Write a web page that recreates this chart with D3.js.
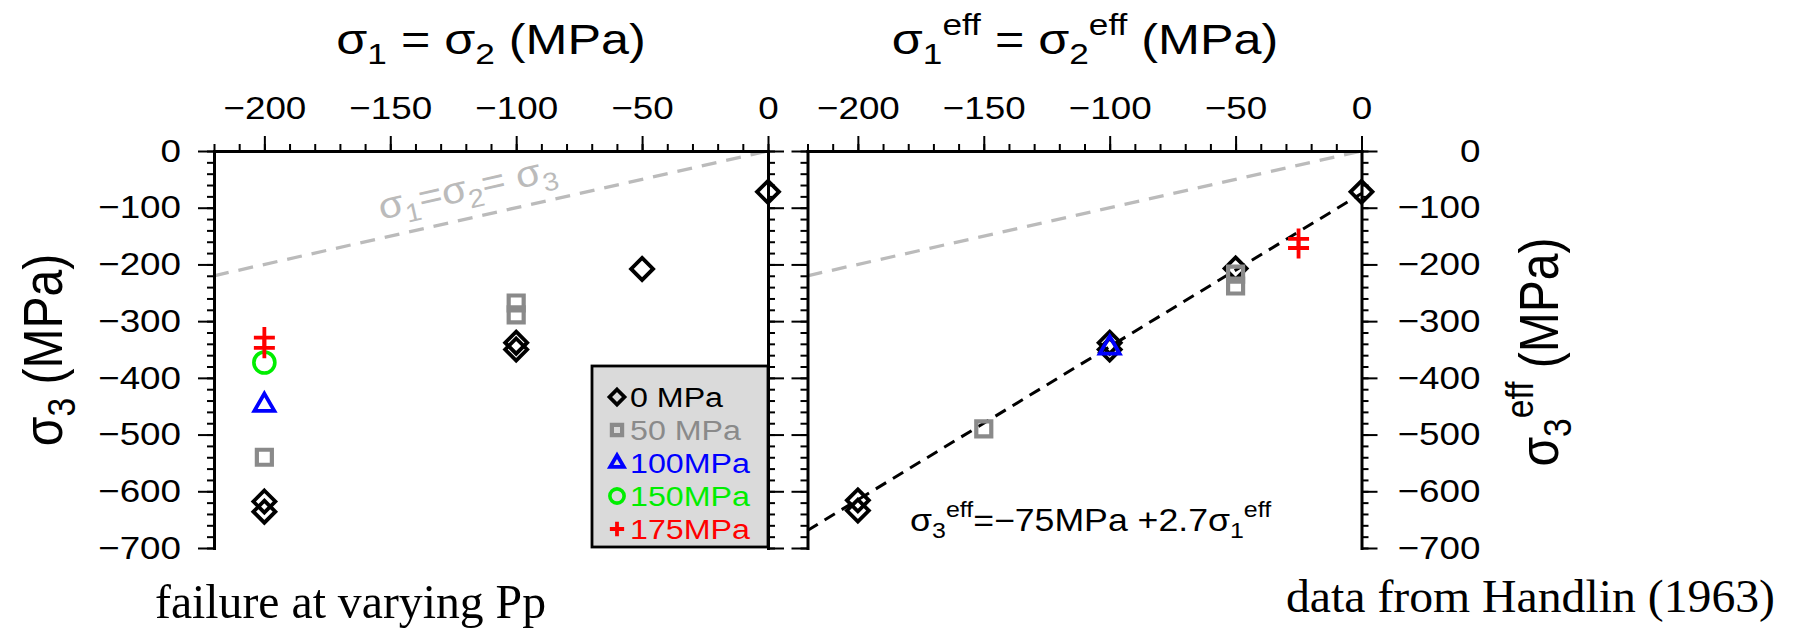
<!DOCTYPE html>
<html>
<head>
<meta charset="utf-8">
<script src="https://cdnjs.cloudflare.com/ajax/libs/d3/7.8.5/d3.min.js"></script>
<style>
  body { margin: 0; background: #fff; }
  svg { display: block; }
  text { font-family: "Liberation Sans", Arial, sans-serif; white-space: pre; }
  .axis .domain { stroke: #000; stroke-width: 3px; stroke-linecap: square; }
  .axis .tick line { stroke: #000; stroke-width: 2px; }
  .axis text { font-size: 32px; fill: #000; font-family: "Liberation Sans", Arial, sans-serif; }
  .serif { font-family: "Liberation Serif", "Times New Roman", serif; }
</style>
</head>
<body>
<script>
// tick labels
var xTicks = [-200, -150, -100, -50, 0];
var yTicks = [0, -100, -200, -300, -400, -500, -600, -700];
var xMinor = d3.range(-220, 10, 10);
var yMinor = d3.range(-700, 20, 20);

// pore pressure groups (legend)
var groups = ["0 MPa", "50 MPa", "100MPa", "150MPa", "175MPa"];
var colors = ["#000000", "#8a8a8a", "#0000ff", "#00ee00", "#ff0000"];

// left panel: sigma1 = sigma2 vs sigma3, by pore pressure
var s1_0 = [0, -50, -100, -100, -200, -200];
var s3_0 = [-72, -208, -338, -350, -618, -636];
var s1_50 = [-100, -100, -200];
var s3_50 = [-268, -289, -540];
var s1_100 = [-200];
var s3_100 = [-448];
var s1_150 = [-200];
var s3_150 = [-373];
var s1_175 = [-200, -200];
var s3_175 = [-329, -347];

// right panel: effective stresses
var e1_0 = [0, -50, -100, -100, -200, -200];
var e3_0 = [-72, -207, -338, -350, -616, -634];
var e1_50 = [-50, -50, -150];
var e3_50 = [-217, -238, -490];
var e1_100 = [-100];
var e3_100 = [-347];
var e1_175 = [-25, -25];
var e3_175 = [-155, -171];

// fit: s3eff = -75 + 2.7 s1eff
var fitA = -75, fitB = 2.7;
var fitX = [-220, 0];

var W = 1796, H = 628, SX = 1.15;

var svg = d3.select("body").append("svg").attr("width", W).attr("height", H);
svg.append("rect").attr("width", W).attr("height", H).attr("fill", "#fff");

var y = d3.scaleLinear().domain([-700, 0]).range([548, 151]);
var xL = d3.scaleLinear().domain([-220, 0]).range([214, 768]);
var xR = d3.scaleLinear().domain([-220, 0]).range([807.5, 1361.5]);

// marker shapes, size = half extent in px
var diamond = { draw: function(c, r) { c.moveTo(0, -r); c.lineTo(r, 0); c.lineTo(0, r); c.lineTo(-r, 0); c.closePath(); } };
var square = { draw: function(c, r) { c.moveTo(-r, -r); c.lineTo(r, -r); c.lineTo(r, r); c.lineTo(-r, r); c.closePath(); } };
var triangle = { draw: function(c, r) { var u = r * Math.sqrt(3) / 2; c.moveTo(0, -r); c.lineTo(u, r / 2); c.lineTo(-u, r / 2); c.closePath(); } };
var circle = { draw: function(c, r) { c.moveTo(r, 0); c.arc(0, 0, r, 0, 2 * Math.PI); } };
var plus = { draw: function(c, r) { c.moveTo(-r, 0); c.lineTo(r, 0); c.moveTo(0, -r); c.lineTo(0, r); } };
var shapes = [diamond, square, triangle, circle, plus];
var sizes = [11, 7.5, 11.5, 10.5, 10.5];
var widths = [3.8, 4.2, 3.8, 3.6, 3.8];

function stretchText(g, x, yy, size, sx) {
    return g.append("text")
        .attr("transform", "translate(" + x + "," + yy + ") scale(" + (sx || SX) + ",1)")
        .style("font-size", size + "px");
}

function rich(t, parts, fs) {
    var cur = 0;
    parts.forEach(function(p) {
        var off = p[1] == "sub" ? 0.24 * fs : (p[1] == "sup" ? -0.45 * fs : 0);
        t.append("tspan")
            .attr("dy", off - cur)
            .style("font-size", (p[1] == "n" ? fs : fs * 0.7) + "px")
            .text(p[0]);
        cur = off;
    });
}

function drawAxes(x, leftLabels, rightLabels) {
    var g = svg.append("g");
    var top = g.append("g").attr("class", "axis").attr("transform", "translate(0," + y(0) + ")");
    top.call(d3.axisTop(x).tickValues(xTicks).tickSize(15).tickSizeOuter(0).tickPadding(17));
    top.selectAll("text").attr("transform", "scale(" + SX + ",1)");
    var topMinor = g.append("g").attr("class", "axis").attr("transform", "translate(0," + y(0) + ")");
    topMinor.call(d3.axisTop(x).tickValues(xMinor).tickSize(7).tickFormat(""));
    topMinor.select(".domain").remove();

    var x0 = x.range()[0], x1 = x.range()[1];
    var left = g.append("g").attr("class", "axis").attr("transform", "translate(" + x0 + ",0)");
    var la = d3.axisLeft(y).tickValues(yTicks).tickSize(16).tickSizeOuter(0);
    if (!leftLabels) la.tickFormat("");
    left.call(la);
    left.selectAll("text").attr("x", -33 / SX).attr("transform", "scale(" + SX + ",1)");
    var leftMinor = g.append("g").attr("class", "axis").attr("transform", "translate(" + x0 + ",0)");
    leftMinor.call(d3.axisLeft(y).tickValues(yMinor).tickSize(7).tickFormat(""));
    leftMinor.select(".domain").remove();

    var right = g.append("g").attr("class", "axis").attr("transform", "translate(" + x1 + ",0)");
    var ra = d3.axisRight(y).tickValues(yTicks).tickSize(16).tickSizeOuter(0);
    if (!rightLabels) ra.tickFormat("");
    right.call(ra);
    right.selectAll("text").attr("text-anchor", "end").attr("x", 119 / SX).attr("transform", "scale(" + SX + ",1)");
    var rightMinor = g.append("g").attr("class", "axis").attr("transform", "translate(" + x1 + ",0)");
    rightMinor.call(d3.axisRight(y).tickValues(yMinor).tickSize(7).tickFormat(""));
    rightMinor.select(".domain").remove();
}

function drawPoints(x, sets) {
    var g = svg.append("g");
    sets.forEach(function(s) {
        var pts = d3.zip(s[0], s[1]);
        g.selectAll(null).data(pts).enter().append("path")
            .attr("transform", function(d) { return "translate(" + x(d[0]) + "," + y(d[1]) + ")"; })
            .attr("d", d3.symbol().type(shapes[s[2]]).size(sizes[s[2]]))
            .attr("fill", "none")
            .attr("stroke", colors[s[2]])
            .attr("stroke-width", widths[s[2]])
            .attr("stroke-linejoin", "miter");
    });
}

function sameLine(x) {
    svg.append("path")
        .datum(fitX)
        .attr("d", d3.line().x(function(d) { return x(d); }).y(function(d) { return y(d); }))
        .attr("fill", "none").attr("stroke", "#bbbbbb").attr("stroke-width", 3.3)
        .attr("stroke-dasharray", "15,10");
}

// ---- left panel
sameLine(xL);
var ang = Math.atan2(y(-150) - y(0), xL(-150) - xL(0)) * 180 / Math.PI - 180;
var lab = svg.append("text")
    .attr("transform", "translate(" + xL(-152) + "," + y(-152) + ") rotate(" + ang + ") translate(0,-18) scale(1.1,1)")
    .attr("fill", "#bbbbbb");
rich(lab, [["\u03c3", "n"], ["1", "sub"], ["=\u03c3", "n"], ["2", "sub"], ["= \u03c3", "n"], ["3", "sub"]], 37);

drawPoints(xL, [[s1_0, s3_0, 0], [s1_50, s3_50, 1], [s1_100, s3_100, 2], [s1_150, s3_150, 3], [s1_175, s3_175, 4]]);

// ---- right panel
sameLine(xR);
svg.append("path")
    .datum(fitX)
    .attr("d", d3.line().x(function(d) { return xR(d); }).y(function(d) { return y(fitA + fitB * d); }))
    .attr("fill", "none").attr("stroke", "#000").attr("stroke-width", 3)
    .attr("stroke-dasharray", "12,8");

drawPoints(xR, [[e1_0, e3_0, 0], [e1_50, e3_50, 1], [e1_100, e3_100, 2], [e1_175, e3_175, 4]]);

drawAxes(xL, true, false);
drawAxes(xR, false, true);

// legend
var lg = svg.append("g");
lg.append("rect").attr("x", 592).attr("y", 366).attr("width", 176).attr("height", 181)
    .attr("fill", "#dadada").attr("stroke", "#000").attr("stroke-width", 2.8);
groups.forEach(function(name, i) {
    var cy = 397 + i * 33;
    lg.append("path")
        .attr("transform", "translate(617," + cy + ")")
        .attr("d", d3.symbol().type(shapes[i]).size(sizes[i] * 0.68))
        .attr("fill", "none").attr("stroke", colors[i]).attr("stroke-width", widths[i]);
    stretchText(lg, 630, cy + 10, 28, 1.15).attr("fill", colors[i]).text(name);
});

// titles
var t1 = stretchText(svg, 491, 54, 43, 1.17).attr("text-anchor", "middle");
rich(t1, [["\u03c3", "n"], ["1", "sub"], [" = \u03c3", "n"], ["2", "sub"], [" (MPa)", "n"]], 43);
var t2 = stretchText(svg, 1085, 54, 43, 1.17).attr("text-anchor", "middle");
rich(t2, [["\u03c3", "n"], ["1", "sub"], ["eff", "sup"], [" = \u03c3", "n"], ["2", "sub"], ["eff", "sup"], [" (MPa)", "n"]], 43);

var yl = svg.append("text").attr("text-anchor", "middle")
    .attr("transform", "translate(62,350) scale(1.15,1) rotate(-90)");
rich(yl, [["\u03c3", "n"], ["3", "sub"], [" (MPa)", "n"]], 48);
var yr = svg.append("text").attr("text-anchor", "middle")
    .attr("transform", "translate(1558,352) scale(1.15,1) rotate(-90)");
rich(yr, [["\u03c3", "n"], ["3", "sub"], ["eff", "sup"], [" (MPa)", "n"]], 48);

// fit label
var eq = stretchText(svg, 910, 531, 31);
rich(eq, [["\u03c3", "n"], ["3", "sub"], ["eff", "sup"], ["=\u221275MPa +2.7\u03c3", "n"], ["1", "sub"], ["eff", "sup"]], 31);

// notes
svg.append("text").attr("class", "serif").attr("x", 155).attr("y", 618)
    .style("font-size", "49px").attr("textLength", 391).attr("lengthAdjust", "spacingAndGlyphs")
    .text("failure at varying Pp");
svg.append("text").attr("class", "serif").attr("x", 1286).attr("y", 612)
    .style("font-size", "47px").attr("textLength", 489).attr("lengthAdjust", "spacingAndGlyphs")
    .text("data from Handlin (1963)");
</script>
</body>
</html>
